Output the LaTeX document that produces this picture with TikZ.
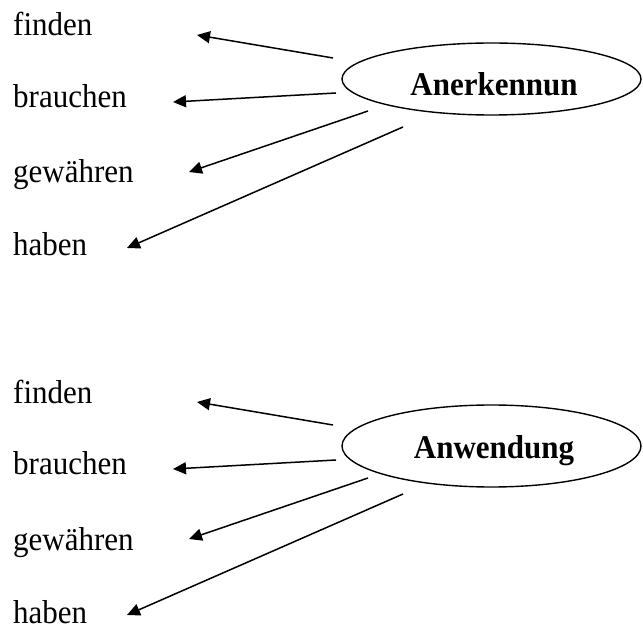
\documentclass[tikz,border=0pt]{standalone}
\usepackage{fontspec}
\setmainfont{Liberation Serif}
\usetikzlibrary{arrows.meta}
\begin{document}
\begin{tikzpicture}[x=1pt,y=-1pt,
  word/.style={anchor=base west,inner sep=0pt,font=\fontsize{31}{36}\selectfont},
  link/.style={line width=1.5pt,-{Triangle[length=13pt,width=12pt]}}]
\useasboundingbox (0,0) rectangle (643,628);
\foreach \g/\dy/\lab/\ry in {a/0/Anerkennun/36, b/367/Anwendung/41}{
  \begin{scope}[yshift=-\dy pt]
    \node[word] (\g fin) at (13,36) {\scalebox{1}[1.07]{finden}};
    \node[word] (\g bra) at (13,108) {\scalebox{1}[1.07]{brauchen}};
    \node[word] (\g gew) at (13,183) {\scalebox{1}[1.07]{gewähren}};
    \node[word] (\g hab) at (13,256) {\scalebox{1}[1.07]{haben}};
    \draw[line width=1.4pt] (491.5,79) ellipse [x radius=149.5pt,y radius=\ry pt];
    \node[inner sep=0pt,font=\fontsize{31}{36}\selectfont\bfseries] (\g hub) at (494,84) {\scalebox{1}[1.07]{\lab}};
    \coordinate (\g t1) at (333,58);  \coordinate (\g h1) at (197,35);
    \coordinate (\g t2) at (336,93);  \coordinate (\g h2) at (173,102);
    \coordinate (\g t3) at (368,111); \coordinate (\g h3) at (189,172);
    \coordinate (\g t4) at (403,127); \coordinate (\g h4) at (127,248);
    \draw[link] (\g t1) -- (\g h1);
    \draw[link] (\g t2) -- (\g h2);
    \draw[link] (\g t3) -- (\g h3);
    \draw[link] (\g t4) -- (\g h4);
  \end{scope}}
\end{tikzpicture}
\end{document}
